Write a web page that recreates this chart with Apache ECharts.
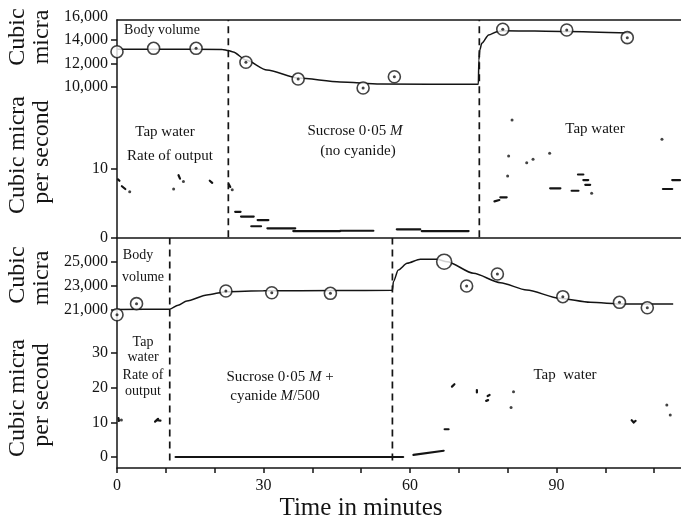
<!DOCTYPE html>
<html><head><meta charset="utf-8">
<script src="https://cdn.jsdelivr.net/npm/echarts@6/dist/echarts.min.js"></script>
<style>html,body{margin:0;padding:0;background:#fff}#c{width:681px;height:520px}</style>
</head><body><div id="c"></div>
<script>
// ---------- data ----------
const xTickLabels = [0, 30, 60, 90];
const xTicks = [0, 10, 20, 30, 40, 50, 60, 70, 80, 90, 100, 110];
const topVolLabels = [10000, 12000, 14000, 16000];
const topVolTicks = [10000, 12000, 14000];
const topRateTicks = [0, 10];
const botVolTicks = [21000, 23000, 25000];
const botRateTicks = [0, 10, 20, 30];

const topDividers = [22.8, 74.2];   // minutes
const botDividers = [10.8, 56.4];

// body volume (cubic micra), [minute, volume]
const topVolCurve = [[0,13220],[10,13220],[21.6,13200],[22.8,13110],[23.8,12980],[26.4,12290],[30.7,11430],[37.1,10740],[45.7,10400],[53.9,10220],[74.0,10200],[74.1,12290],[74.3,13160],[74.7,13730],[76.1,14450],[77.8,14730],[79.0,14820],[92.1,14750],[105.2,14600]];
const topVolPlain = [[0,13010],[7.5,13300]];
const topVolDotted = [[16.2,13300],[26.4,12100],[37.1,10650],[50.4,9880],[56.8,10850],[79.0,14940],[92.1,14880],[104.5,14220]];

const botVolCurve = [[0,21050],[10.8,21060],[12.5,21400],[14.3,21750],[18.4,22250],[22.3,22530],[30,22600],[45,22620],[56.4,22650],[56.6,23360],[57.6,24330],[59.4,24890],[62.1,25225],[65.5,25225],[67.6,25025],[73.0,24060],[78.5,23275],[83.9,22670],[90.6,21975],[96.9,21640],[103.7,21500],[113.9,21500]];
const botVolPlain = [[67.0,25025]];
const botVolDotted = [[0,20600],[4.0,21530],[22.3,22580],[31.7,22440],[43.7,22390],[71.6,23000],[77.9,24000],[91.3,22110],[102.9,21640],[108.6,21190]];

// rate of output (cubic micra per second): dashes [x1, y1, x2, y2] and dots [x, y]
const topRateDashes = [[0.2,8.4,0.5,8.2],[1.0,7.4,1.7,7.0],[12.6,9.0,12.9,8.5],[19.0,8.2,19.5,7.9],[22.9,7.7,23.2,7.3],
  [24.2,3.7,25.3,3.7],[25.4,3.0,28.0,3.0],[27.5,1.6,29.5,1.6],[28.8,2.5,31.0,2.5],[30.8,1.3,36.5,1.3],[36.1,0.9,45.7,0.9],
  [45.7,0.95,52.5,0.95],[57.3,1.15,62.1,1.15],[62.4,0.9,72.0,0.9],
  [77.3,5.2,78.3,5.4],[78.5,5.8,79.8,5.8],[88.7,7.1,90.8,7.1],[93.1,6.75,94.5,6.75],[94.4,9.1,95.5,9.1],[95.5,8.3,96.5,8.3],
  [95.9,7.6,96.9,7.6],[111.8,7.0,113.7,7.0],[113.7,8.3,115.3,8.3]];
const topRateDots = [[2.6,6.6],[11.6,7.0],[13.6,8.1],[23.6,6.9],[80.9,17.0],[80.2,11.8],[80.0,8.9],[83.9,10.8],[85.2,11.3],[88.6,12.2],[111.6,14.2],[97.2,6.4]];

const botRateDashes = [[0.3,11.2,0.4,10.4],[7.8,10.2,8.4,11.0],[8.2,10.6,8.9,10.5],[12.0,0,58.6,0],[60.7,0.6,66.9,1.8],
  [67.1,8.0,67.9,8.0],[68.6,20.3,69.1,21.0],[73.7,19.3,73.7,18.6],[75.9,17.6,76.3,17.9],[75.6,16.2,76.0,16.4],
  [105.4,10.6,105.8,10.0],[105.8,10.0,106.2,10.4]];
const botRateDots = [[0.9,10.7],[81.2,18.8],[80.7,14.3],[112.6,15.0],[113.3,12.1]];

// ---------- chart ----------
const INK = '#141414';
const SERIF = '"Liberation Serif", "DejaVu Serif", serif';
const X_MAX = 115.5;
const TOP_RATE_MAX = 31.5;
const BOT_RATE_MIN = -3.17, BOT_RATE_MAX = 63.17;

const chart = echarts.init(document.getElementById('c'), null, {renderer: 'canvas'});

function hiddenX(gi) {
  return {type: 'value', gridIndex: gi, min: 0, max: X_MAX, show: false};
}
function frameX(gi, pos) {
  return {type: 'value', gridIndex: gi, min: 0, max: X_MAX, position: pos,
    axisLine: {show: true, onZero: false, lineStyle: {color: INK, width: 1.5}},
    axisTick: {show: false}, axisLabel: {show: false}, splitLine: {show: false}};
}
function yAxisDef(gi, min, max, labels, ticks, showLine) {
  return {
    type: 'value', gridIndex: gi, min: min, max: max,
    axisLine: {show: !!showLine, onZero: false, lineStyle: {color: INK, width: 1.5}},
    axisTick: {show: true, customValues: ticks, length: 6, lineStyle: {color: INK, width: 1.5}},
    axisLabel: {customValues: labels, color: INK, fontFamily: SERIF, fontSize: 16, margin: 9,
      formatter: v => Number(v).toLocaleString('en-US')},
    splitLine: {show: false}
  };
}
function segItem(width) {
  return function (params, api) {
    const a = api.coord([api.value(0), api.value(1)]);
    const b = api.coord([api.value(2), api.value(3)]);
    return {type: 'line', shape: {x1: a[0], y1: a[1], x2: b[0], y2: b[1]},
      style: {stroke: INK, lineWidth: width, lineCap: 'round'}};
  };
}
function dividerItem(lo, hi) {
  return function (params, api) {
    const v = api.value(0);
    const a = api.coord([v, lo]);
    const b = api.coord([v, hi]);
    return {type: 'line', shape: {x1: a[0], y1: a[1], x2: b[0], y2: b[1]},
      style: {stroke: INK, lineWidth: 1.7, lineDash: [7, 5]}};
  };
}
function circles(xi, data, size, dotted) {
  const out = [{
    type: 'scatter', xAxisIndex: xi, yAxisIndex: xi, data: data, symbol: 'circle', symbolSize: size,
    itemStyle: {color: '#fff', borderColor: INK, borderWidth: 1.6}, z: 5, clip: false, silent: true
  }];
  if (dotted) out.push({
    type: 'scatter', xAxisIndex: xi, yAxisIndex: xi, data: data, symbol: 'circle', symbolSize: 3,
    itemStyle: {color: INK}, z: 6, clip: false, silent: true
  });
  return out;
}
function curve(xi, data) {
  return {type: 'line', xAxisIndex: xi, yAxisIndex: xi, data: data, showSymbol: false, symbol: 'none',
    smooth: 0.25, smoothMonotone: 'x', lineStyle: {color: INK, width: 1.5}, z: 4, silent: true};
}
function dashes(xi, data) {
  return {type: 'custom', xAxisIndex: xi, yAxisIndex: xi, data: data, renderItem: segItem(2.2),
    encode: {x: [0, 2], y: [1, 3]}, silent: true};
}
function dots(xi, data) {
  return {type: 'scatter', xAxisIndex: xi, yAxisIndex: xi, data: data, symbol: 'circle', symbolSize: 3,
    itemStyle: {color: INK}, clip: false, silent: true};
}
function dividers(xi, data, lo, hi) {
  return {type: 'custom', xAxisIndex: xi, yAxisIndex: xi, data: data.map(v => [v]),
    renderItem: dividerItem(lo, hi), encode: {x: 0}, silent: true};
}

function txt(text, x, y, size, opts) {
  opts = opts || {};
  return {
    type: 'text', x: x, y: y, rotation: opts.rot || 0, silent: true,
    style: Object.assign({
      text: text, fill: INK, fontFamily: SERIF, fontSize: size,
      textAlign: 'center', textVerticalAlign: 'middle'
    }, opts.rich ? {rich: opts.rich} : {})
  };
}
const italic = {i: {fontStyle: 'italic', fontFamily: SERIF, fontSize: 15, fill: INK}};
const R90 = Math.PI / 2;

const option = {
  animation: false,
  backgroundColor: '#fff',
  grid: [
    {left: 117, top: 20, right: 0, height: 217.3},
    {left: 117, top: 17, right: 0, height: 92.8},
    {left: 117, top: 238, right: 0, height: 230},
    {left: 117, top: 238, right: 0, height: 108}
  ],
  xAxis: [
    frameX(0, 'bottom'), hiddenX(1),
    {
      type: 'value', gridIndex: 2, min: 0, max: X_MAX,
      axisLine: {show: true, onZero: false, lineStyle: {color: INK, width: 1.5}},
      axisTick: {show: true, customValues: xTicks, inside: false, length: 5, lineStyle: {color: INK, width: 1.5}},
      axisLabel: {customValues: xTickLabels, color: INK, fontFamily: SERIF, fontSize: 16, margin: 10},
      splitLine: {show: false}
    },
    hiddenX(3),
    frameX(0, 'top')
  ],
  yAxis: [
    yAxisDef(0, 0, TOP_RATE_MAX, topRateTicks, topRateTicks, true),
    yAxisDef(1, 8000, 16000, topVolLabels, topVolTicks, false),
    yAxisDef(2, BOT_RATE_MIN, BOT_RATE_MAX, botRateTicks, botRateTicks, true),
    yAxisDef(3, 18000, 27000, botVolTicks, botVolTicks, false)
  ],
  series: [
    dividers(0, topDividers, 0, TOP_RATE_MAX),
    dividers(2, botDividers, -1, BOT_RATE_MAX),
    curve(1, topVolCurve),
    ...circles(1, topVolPlain, 12, false),
    ...circles(1, topVolDotted, 12, true),
    dashes(0, topRateDashes),
    dots(0, topRateDots),
    curve(3, botVolCurve),
    ...circles(3, botVolPlain, 15, false),
    ...circles(3, botVolDotted, 12, true),
    dashes(2, botRateDashes),
    dots(2, botRateDots)
  ],
  graphic: [
    txt('Cubic', 18, 37, 24, {rot: R90}),
    txt('micra', 42, 37, 24, {rot: R90}),
    txt('Cubic micra', 18, 155, 24, {rot: R90}),
    txt('per second', 42, 152, 24, {rot: R90}),
    txt('Cubic', 18, 275, 24, {rot: R90}),
    txt('micra', 42, 278, 24, {rot: R90}),
    txt('Cubic micra', 18, 398, 24, {rot: R90}),
    txt('per second', 42, 395, 24, {rot: R90}),
    txt('Time in minutes', 361, 508, 25),
    // top panel annotations
    txt('Body volume', 162, 30, 14),
    txt('Tap water', 165, 132, 15),
    txt('Rate of output', 170, 156, 15),
    txt('Sucrose 0·05 {i|M}', 355, 131, 15, {rich: italic}),
    txt('(no cyanide)', 358, 151, 15),
    txt('Tap water', 595, 129, 15),
    // bottom panel annotations
    txt('Body', 138, 255, 14),
    txt('volume', 143, 277, 14),
    txt('Tap', 143, 342, 14),
    txt('water', 143, 357, 14),
    txt('Rate of', 143, 375, 14),
    txt('output', 143, 391, 14),
    txt('Sucrose 0·05 {i|M} +', 280, 377, 15, {rich: italic}),
    txt('cyanide {i|M}/500', 275, 396, 15, {rich: italic}),
    txt('Tap  water', 565, 375, 15)
  ]
};
chart.setOption(option);
</script>
</body></html>
